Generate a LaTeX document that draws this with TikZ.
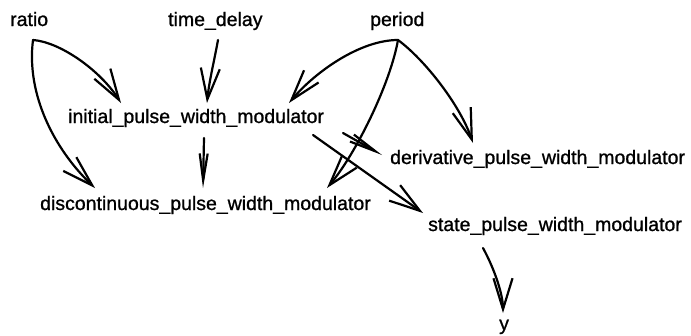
\documentclass[tikz,border=0pt]{standalone}
\usepackage{fontspec}
\setmainfont[FakeBold=1]{Liberation Sans}
\usetikzlibrary{arrows.meta}
\begin{document}
\begin{tikzpicture}[x=1pt,y=-1pt,
  lbl/.style={anchor=base west,inner sep=0pt,font=\fontsize{19.5}{23}\selectfont},
  link/.style={line width=2.2pt,line cap=round,line join=round,
    -{Straight Barb[length=31pt,width=19pt,line width=2.2pt]}},
  slim/.style={line width=2.2pt,line cap=round,line join=round,
    -{Straight Barb[length=27pt,width=8pt,line width=2.2pt]}}]
\useasboundingbox (0,0) rectangle (691,335);

% variable names
\node[lbl] (ratio) at (10,26) {ratio};
\node[lbl] (delay) at (168,26) {time\_delay};
\node[lbl] (period) at (370,26) {period};
\node[lbl] (init) at (68,123) {initial\_pulse\_width\_modulator};
\node[lbl] (disc) at (40,210) {discontinuous\_pulse\_width\_modulator};
\node[lbl] (deriv) at (390,164) {derivative\_pulse\_width\_modulator};
\node[lbl] (state) at (428,231) {state\_pulse\_width\_modulator};
\node[lbl] (y) at (499,330) {y};

% dependencies from ratio
\draw[link] ([shift={(23,14)}]ratio.base west)
  .. controls (60,42) and (100,70) .. ([shift={(53,-20)}]init.base west);
\draw[link] ([shift={(23,14)}]ratio.base west)
  .. controls (26,95) and (55,150) .. ([shift={(55,-22)}]disc.base west);

% dependency from time_delay
\draw[link] ([shift={(50,14)}]delay.base west)
  .. controls (214,62) and (209,82) .. ([shift={(139,-20)}]init.base west);

% dependencies from period
\draw[link] ([shift={(28,14)}]period.base west)
  .. controls (360,40) and (315,72) .. ([shift={(221,-20)}]init.base west);
\draw[link] ([shift={(28,14)}]period.base west)
  .. controls (390,85) and (355,155) .. ([shift={(287,-22)}]disc.base west);
\draw[link] ([shift={(28,14)}]period.base west)
  .. controls (425,60) and (460,105) .. ([shift={(83,-21)}]deriv.base west);

% dependencies from initial_pulse_width_modulator
\draw[slim] ([shift={(136,15)}]init.base west) -- ([shift={(163,-22)}]disc.base west);
\draw[slim] ([shift={(275,10)}]init.base west) -- ([shift={(-8,-9)}]deriv.base west);
\draw[link] ([shift={(245,12)}]init.base west) -- ([shift={(-5,-18)}]state.base west);

% output
\draw[link] ([shift={(55,17)}]state.base west)
  .. controls (495,270) and (503,295) .. ([shift={(4,-17)}]y.base west);
\end{tikzpicture}
\end{document}
